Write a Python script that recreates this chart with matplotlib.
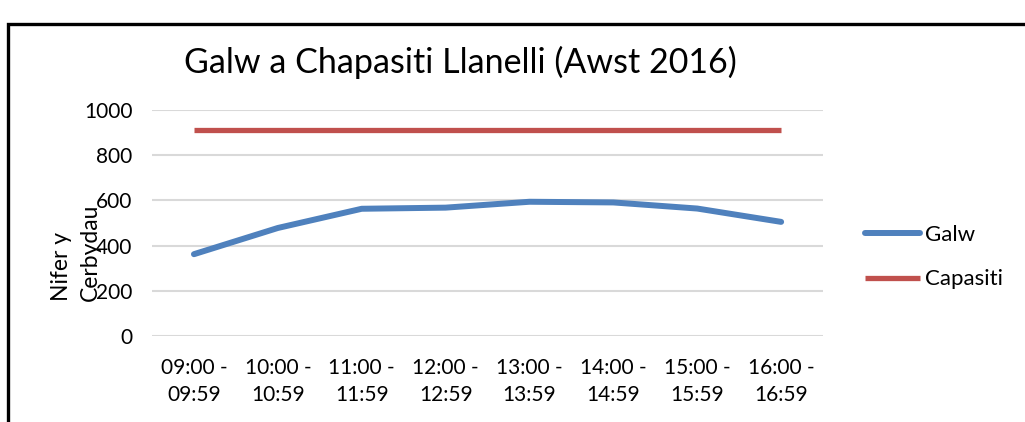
import numpy as np
import matplotlib.pyplot as plt
from matplotlib.patches import Rectangle

plt.rcParams['font.family'] = ['Lato', 'DejaVu Sans']

# data
slots = ["09:00 -\n09:59", "10:00 -\n10:59", "11:00 -\n11:59", "12:00 -\n12:59",
         "13:00 -\n13:59", "14:00 -\n14:59", "15:00 -\n15:59", "16:00 -\n16:59"]
galw = [362, 478, 563, 568, 594, 591, 564, 505]
capasiti = [912, 912, 912, 912, 912, 912, 912, 912]

fig = plt.figure(figsize=(10.25, 4.22), dpi=100)
ax = fig.add_axes([0.1483, 0.2038, 0.6547, 0.5355])

x = np.arange(len(slots))
ax.plot(x, galw, color='#4F81BD', lw=4.3, solid_capstyle='round', label='Galw')
ax.plot(x, capasiti, color='#C0504D', lw=3.8, solid_capstyle='butt', label='Capasiti')

ax.set_xlim(-0.5, len(slots) - 0.5)
ax.set_ylim(0, 1000)
ax.set_yticks(range(0, 1001, 200))
ax.set_xticks(x)
ax.set_xticklabels(slots, linespacing=1.45)
ax.grid(axis='y', color='#D9D9D9', lw=1.5)
ax.set_axisbelow(True)
for s in ax.spines.values():
    s.set_visible(False)
ax.tick_params(length=0, labelsize=15)
ax.tick_params(axis='x', pad=16)
ax.tick_params(axis='y', pad=14)

fig.text(0.449, 0.853, "Galw a Chapasiti Llanelli (Awst 2016)", ha='center', va='center',
         fontsize=24.5)
fig.text(0.074, 0.403, "Nifer y\nCerbydau", rotation=90, ha='center', va='center',
         multialignment='left', fontsize=16.5, linespacing=1.45)

leg = ax.legend(loc='center left', bbox_to_anchor=(0.824, 0.391), bbox_transform=fig.transFigure,
                frameon=False, fontsize=16, handlelength=2.5, handletextpad=0.2,
                labelspacing=1.12)

# chart frame
fig.add_artist(Rectangle((7.5 / 1025, -0.1), 1.2, (410 - 12.5) / 422 + 0.1, fill=False,
                         ec='black', lw=2.4, transform=fig.transFigure, clip_on=False))

fig.savefig("out.png", dpi=100)
